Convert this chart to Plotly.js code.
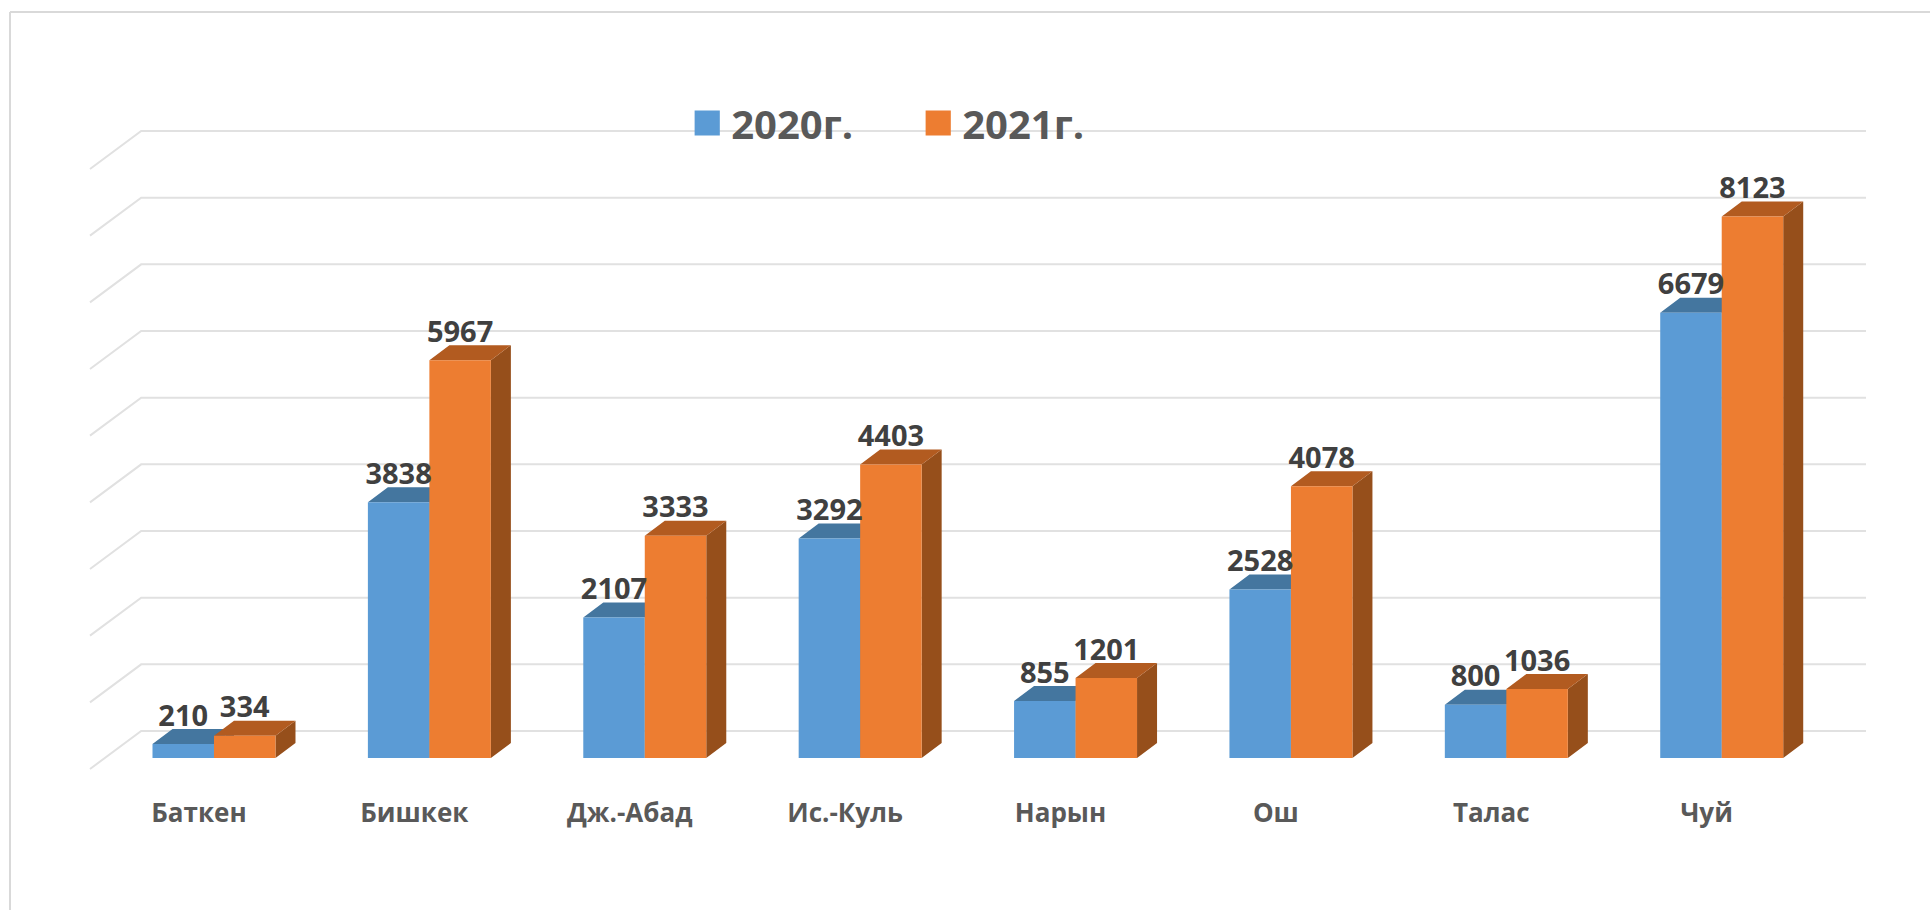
<!DOCTYPE html>
<html>
<head>
<meta charset="utf-8">
<script src="https://cdn.plot.ly/plotly-3.0.1.min.js"></script>
<style>html,body{margin:0;padding:0;background:#fff}</style>
</head>
<body>
<div id="chart" style="width:1930px;height:910px"></div>
<script>
const categories = ["Баткен","Бишкек","Дж.-Абад","Ис.-Куль","Нарын","Ош","Талас","Чуй"];
const values2020 = [210,3838,2107,3292,855,2528,800,6679];
const values2021 = [334,5967,3333,4403,1201,4078,1036,8123];
const seriesNames = ["2020г.","2021г."];
const gridValues = [0,1000,2000,3000,4000,5000,6000,7000,8000,9000];

const W = 1930, H = 910, MB = 130;
const xRange = [-0.9935, 7.967];
const yRange = [-330, 11370];
const barW = 0.2855;          // category units
const depthX = 0.0929, depthY = 225;   // oblique depth of a bar
const wallLift = 405, floorDrop = -165; // grid wall / floor offset from bar front plane
const gridFront = -0.5757, gridBack = -0.338, gridRight = 7.67;
const labelLift = 385, tickShift = -0.07;

const colors = {
  front: ["#5B9BD5","#ED7D31"],
  top: ["#44769F","#B25B20"],
  side: ["#44729A","#964F1B"]
};

function idx(){ return categories.map((_,i)=>i); }

// Grid: back wall lines with oblique floor stub
const gx=[], gy=[];
gridValues.forEach(v=>{
  gx.push(gridFront, gridBack, gridRight, null);
  gy.push(v+floorDrop, v+wallLift, v+wallLift, null);
});
const traces = [{
  type:"scatter", mode:"lines", x:gx, y:gy, showlegend:false, hoverinfo:"skip",
  line:{color:"#E1E1E1", width:2}, connectgaps:false
}];

// Oblique faces
[values2020, values2021].forEach((vals,s)=>{
  const sx=[], sy=[], tx=[], ty=[];
  vals.forEach((v,i)=>{
    const x0 = i-barW+s*barW, x1 = x0+barW;
    sx.push(x1,x1+depthX,x1+depthX,x1,x1,null);
    sy.push(0,depthY,v+depthY,v,0,null);
    tx.push(x0,x0+depthX,x1+depthX,x1,x0,null);
    ty.push(v,v+depthY,v+depthY,v,v,null);
  });
  traces.push({type:"scatter",mode:"lines",x:sx,y:sy,fill:"toself",fillcolor:colors.side[s],
    line:{width:0,color:colors.side[s]},showlegend:false,hoverinfo:"skip"});
  traces.push({type:"scatter",mode:"lines",x:tx,y:ty,fill:"toself",fillcolor:colors.top[s],
    line:{width:0,color:colors.top[s]},showlegend:false,hoverinfo:"skip"});
});

// Front faces, on the overlay subplot
[values2020, values2021].forEach((vals,s)=>{
  traces.push({type:"bar",x:idx(),y:vals,name:seriesNames[s],xaxis:"x2",yaxis:"y2",
    marker:{color:colors.front[s],line:{width:0}},hovertemplate:"%{y}<extra>"+seriesNames[s]+"</extra>"});
});
// Data labels
[values2020, values2021].forEach((vals,s)=>{
  traces.push({type:"scatter",mode:"text",xaxis:"x2",yaxis:"y2",showlegend:false,hoverinfo:"skip",
    x:idx().map(i=>i-barW/2+s*barW), y:vals.map(v=>v+labelLift),
    text:vals.map(String), textposition:"middle center",
    textfont:{family:"Open Sans",size:29,color:"#404040",weight:700}, cliponaxis:false});
});

const plotH = H-MB;
const layout = {
  width:W, height:H,
  margin:{l:0,r:0,t:0,b:MB},
  paper_bgcolor:"#fff", plot_bgcolor:"rgba(0,0,0,0)",
  barmode:"group", bargap:1-2*barW, bargroupgap:0,
  showlegend:true,
  legend:{orientation:"h",x:0.354,y:0.884,xanchor:"left",yanchor:"top",
    font:{family:"Open Sans",size:40,color:"#595959",weight:700},
    bgcolor:"rgba(0,0,0,0)",itemwidth:38,traceorder:"normal",
    entrywidth:178,entrywidthmode:"pixels"},
  xaxis:{range:xRange,showgrid:false,zeroline:false,showline:false,
    tickmode:"array",tickvals:idx().map(i=>i+tickShift),ticktext:categories,
    ticks:"outside",ticklen:10,tickcolor:"rgba(0,0,0,0)",
    tickfont:{family:"Open Sans",size:26,color:"#595959",weight:700}},
  yaxis:{range:yRange,showgrid:false,zeroline:false,showline:false,showticklabels:false,ticks:""},
  xaxis2:{overlaying:"x",matches:"x",visible:false},
  yaxis2:{overlaying:"y",matches:"y",visible:false},
  shapes:[
    {type:"line",xref:"paper",yref:"paper",x0:10/W,x1:10/W,y0:-MB/plotH,y1:1-12/plotH,line:{color:"#D9D9D9",width:2}},
    {type:"line",xref:"paper",yref:"paper",x0:10/W,x1:1,y0:1-12/plotH,y1:1-12/plotH,line:{color:"#D9D9D9",width:2}}
  ]
};

const gd = document.getElementById("chart");
Plotly.newPlot(gd,traces,layout,{displayModeBar:false,responsive:false}).then(()=>{
  gd.querySelectorAll(".legend .legendpoints path").forEach(p=>{
    p.setAttribute("transform",(p.getAttribute("transform")||"")+" scale(2.1)");
  });
});
</script>
</body>
</html>
